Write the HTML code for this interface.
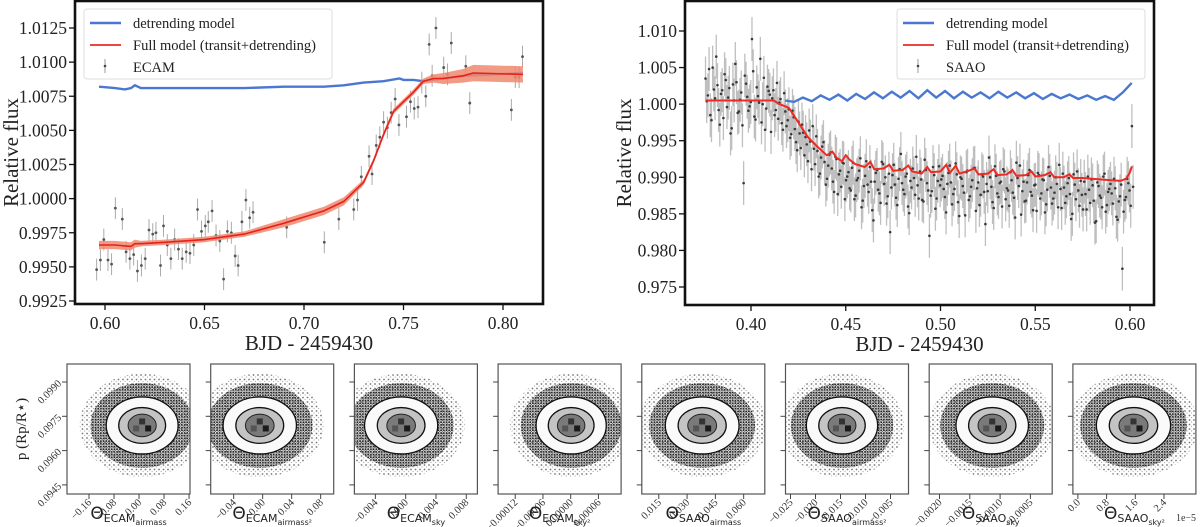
<!DOCTYPE html>
<html><head><meta charset="utf-8"><style>
html,body{margin:0;padding:0;background:#fff;}
svg{display:block;font-family:"Liberation Serif",serif;}
</style></head><body>
<svg id="fig" width="1200" height="527" viewBox="0 0 1200 527" xmlns="http://www.w3.org/2000/svg">
<defs>
<pattern id="dotsDark" width="2.7" height="2.7" patternUnits="userSpaceOnUse"><circle cx="1" cy="1" r="1.0" fill="#262626"/><circle cx="2.3" cy="2.2" r="0.55" fill="#555"/></pattern>
<pattern id="dotsLight" width="4.5" height="4.5" patternUnits="userSpaceOnUse"><circle cx="1.5" cy="1.5" r="0.9" fill="#777"/><circle cx="3.6" cy="3.5" r="0.6" fill="#aaa"/></pattern>
<filter id="soft"><feGaussianBlur stdDeviation="0.4"/></filter>
</defs>
<g id="ecam"></g>
<g id="saao"></g>
<g id="corner"></g>
</svg>
<script>
// ---------- ECAM data ----------
const ecamTimes=[0.5958,0.5977,0.5994,0.6015,0.6033,0.6052,0.6087,0.6106,0.6125,0.6144,0.6163,0.6183,0.6202,0.6221,0.6240,0.6256,0.6279,0.6294,0.6313,0.6331,0.6350,0.6369,0.6388,0.6408,0.6427,0.6446,0.6465,0.6485,0.6504,0.6519,0.6538,0.6558,0.6577,0.6596,0.6615,0.6635,0.6654,0.6669,0.6688,0.6708,0.6727,0.6744,0.6913,0.7102,0.7175,0.7250,0.7269,0.7288,0.7327,0.7342,0.7363,0.7381,0.7400,0.7419,0.7438,0.7458,0.7477,0.7515,0.7535,0.7554,0.7573,0.7592,0.7612,0.7629,0.7644,0.7663,0.7702,0.7721,0.7740,0.7813,0.7833,0.8042,0.8062,0.8081,0.8098];
const ecamFlux=[0.9948,0.9955,0.9970,0.9955,0.9952,0.9993,0.9985,0.9961,0.9956,0.9959,0.9947,0.9951,0.9956,0.9977,0.9974,0.9975,0.9951,0.9980,0.9966,0.9956,0.9970,0.9963,0.9956,0.9961,0.9960,0.9966,0.9992,0.9976,0.9980,0.9983,0.9991,0.9973,0.9969,0.9941,0.9976,0.9975,0.9958,0.9951,0.9983,0.9999,0.9986,0.9990,0.9979,0.9968,0.9985,0.9992,0.9999,1.0016,1.0031,1.0018,1.0039,1.0045,1.0056,1.0052,1.0063,1.0073,1.0054,1.0060,1.0071,1.0066,1.0067,1.0085,1.0075,1.0113,1.0090,1.0125,1.0096,1.0091,1.0114,1.0097,1.0070,1.0065,1.0089,1.0089,1.0104];
const ecamErr=0.0008;
const ecamDetT=[0.597,0.605,0.61,0.613,0.615,0.618,0.63,0.65,0.67,0.69,0.71,0.72,0.73,0.74,0.748,0.75,0.755,0.76,0.78,0.81];
const ecamDetF=[1.0082,1.0081,1.0080,1.0081,1.0083,1.0081,1.0081,1.0081,1.0081,1.0082,1.0082,1.0083,1.0085,1.0086,1.0088,1.0087,1.0087,1.0086,1.0090,1.0092];
const ecamModT=[0.597,0.605,0.613,0.615,0.618,0.63,0.65,0.67,0.69,0.71,0.72,0.73,0.735,0.74,0.745,0.75,0.755,0.76,0.765,0.77,0.78,0.785,0.81];
const ecamModF=[0.9966,0.9966,0.9965,0.9967,0.9967,0.9968,0.9970,0.9974,0.9982,0.9991,0.9998,1.0012,1.0028,1.0047,1.0064,1.0071,1.0078,1.0086,1.0088,1.0088,1.0090,1.0092,1.0091];
const ecamModErr=[0.0003,0.0003,0.0003,0.0003,0.0002,0.0002,0.0002,0.0002,0.0003,0.0003,0.0003,0.0002,0.0002,0.0002,0.0002,0.0002,0.0002,0.0002,0.0003,0.0004,0.0005,0.0006,0.0006];
const ecamYTicks=[0.9925,0.9950,0.9975,1.0000,1.0025,1.0050,1.0075,1.0100,1.0125];
const ecamXTicks=[0.60,0.65,0.70,0.75,0.80];
// ---------- SAAO data ----------
const saaoStart=0.376, saaoCadence=0.001257;
const saaoFluxPpt=[3.5,1.2,-1.5,5.0,0.8,2.6,-2.8,1.9,4.1,-0.4,2.2,-3.3,0.5,3.0,-1.0,1.6,-10.8,2.8,-0.9,0.3,4.5,-2.1,1.1,6.2,0.0,-3.5,2.4,1.3,
0.8,-1.5,2.9,0.2,-2.6,1.5,-3.0,-0.7,-4.1,-1.8,-5.2,-2.4,-6.0,-3.9,-4.5,-7.8,-5.1,-3.0,-8.2,-6.4,-9.5,-5.8,-7.9,-10.2,-6.9,-8.8,-12.0,-7.5,-9.6,-11.3,-8.1,-10.4,
-9.3,-11.8,-8.0,-12.5,-10.1,-7.4,-13.2,-9.8,-11.0,-8.6,-14.5,-10.6,-9.0,-12.2,-7.9,-10.9,-13.6,-9.5,-11.4,-8.3,
-12.8,-10.2,-6.8,-11.7,-9.9,-14.0,-10.5,-8.8,-12.4,-11.1,-9.2,-13.1,-7.6,-10.8,-18.0,-11.9,-9.7,-12.9,-8.5,-10.3,
-11.6,-14.8,-9.4,-10.7,-12.3,-8.1,-13.4,-10.0,-11.2,-15.2,-9.1,-12.6,-10.4,-8.7,-11.5,-13.8,-9.6,-12.0,-10.9,-7.3,
-11.3,-14.2,-9.8,-12.7,-10.6,-8.9,-13.0,-11.8,-9.3,-12.1,-15.5,-10.1,-8.4,-11.9,-13.3,-10.7,-9.0,-12.5,-11.1,-14.6,
-9.7,-12.2,-10.4,-13.7,-8.6,-11.4,-12.9,-10.0,-14.1,-11.6,-9.5,-13.5,-10.8,-12.3,-15.0,-11.0,-9.2,-13.9,-12.4,-10.6,
-14.4,-11.7,-10.3,-13.2,-16.0,-11.2,-12.8,-9.9,-14.7,-12.0,-10.9,-13.6,-11.5,-15.8,-12.6,-22.5,-13.1,-10.2,-11.8,-3.0];
const saaoFluxPpt2=[0.4,4.8,-2.2,2.0,6.5,-0.8,1.4,-1.9,3.3,0.9,-4.0,2.7,5.5,-1.2,0.6,-2.9,3.9,1.0,-0.3,8.9,-1.7,2.3,0.2,-2.5,3.6,-0.6,1.8,-3.8,
1.9,-0.8,-2.0,0.7,-3.5,-1.0,-2.2,-4.6,-0.9,-3.4,-6.3,-4.0,-2.8,-7.0,-5.5,-3.6,-8.9,-6.1,-4.4,-9.9,-7.3,-5.2,-11.0,-8.4,-6.6,-10.6,-7.2,-12.3,-9.1,-8.0,-13.0,-9.9,
-11.5,-8.7,-13.0,-10.4,-9.1,-14.1,-11.2,-7.8,-12.0,-10.6,-15.9,-9.4,-11.7,-13.5,-8.2,-10.0,-12.6,-17.5,-9.7,-11.0,
-13.8,-8.9,-10.8,-12.3,-9.5,-14.9,-11.4,-10.1,-7.2,-12.9,-10.3,-13.3,-9.0,-11.8,-12.5,-8.6,-14.3,-10.5,-11.1,-9.8,
-12.7,-10.9,-8.4,-13.7,-11.6,-9.6,-15.3,-10.2,-12.1,-9.3,-13.1,-11.3,-8.8,-14.6,-10.7,-12.4,-9.9,-16.4,-11.9,-10.0,
-13.4,-8.5,-12.2,-10.8,-14.0,-9.2,-11.5,-13.9,-10.4,-12.8,-8.0,-11.2,-15.1,-10.6,-13.2,-9.7,-12.0,-14.5,-11.0,-9.4,
-12.9,-10.3,-14.8,-11.7,-9.8,-13.6,-12.1,-10.9,-8.3,-14.2,-11.4,-12.6,-10.1,-15.7,-9.6,-13.0,-11.8,-10.5,-14.4,-12.3,
-9.9,-13.5,-11.1,-16.2,-10.7,-12.5,-14.1,-9.5,-13.8,-11.6,-12.2,-10.2,-15.4,-13.3,-11.0,-14.7,-12.7,-10.8,-13.9,-11.3];
const saaoErr=0.003;
const saaoModT=[0.376,0.412,0.415,0.42,0.425,0.43,0.435,0.44,0.443,0.445,0.448,0.45,0.452,0.455,0.46,0.463,0.465,0.47,0.473,0.475,0.48,0.483,0.485,0.49,0.493,0.495,0.50,0.503,0.505,0.508,0.51,0.515,0.518,0.52,0.525,0.528,0.53,0.535,0.538,0.54,0.545,0.548,0.55,0.555,0.558,0.56,0.565,0.568,0.57,0.575,0.58,0.585,0.59,0.595,0.598,0.60,0.601];
const saaoModPpt=[0.5,0.5,0.0,-0.5,-2.5,-4.5,-5.8,-7.0,-6.5,-7.3,-7.8,-7.0,-7.6,-8.2,-8.6,-7.9,-8.9,-8.8,-8.3,-9.1,-9.0,-8.4,-9.2,-9.5,-8.6,-9.3,-9.2,-8.3,-9.4,-8.4,-9.5,-9.1,-8.8,-9.6,-9.5,-8.9,-9.7,-9.6,-9.0,-9.8,-9.7,-9.2,-9.9,-9.7,-9.3,-10.0,-10.0,-9.6,-10.1,-10.1,-10.2,-10.3,-10.4,-10.5,-10.2,-9.3,-8.5];
const saaoDetStart=0.418, saaoDetStep=0.00469;
const saaoDetPpt=[0.5,0.3,0.9,0.4,1.2,0.6,1.3,0.5,1.4,0.7,1.6,0.8,1.7,0.9,1.8,0.8,1.9,0.9,1.8,0.8,1.7,0.9,1.6,0.8,1.7,0.9,1.6,0.8,1.5,0.7,1.4,0.8,1.3,0.7,1.2,0.6,1.1,0.6,1.6,2.9];
const saaoYTicks=[0.975,0.980,0.985,0.990,0.995,1.000,1.005,1.010];
const saaoXTicks=[0.40,0.45,0.50,0.55,0.60];
// ---------- corner data ----------
const cornerNames=["ECAM","ECAM","ECAM","ECAM","SAAO","SAAO","SAAO","SAAO"];
const cornerSubs=["airmass","airmass²","sky","sky²","airmass","airmass²","sky","sky²"];
const cornerXMin=[-0.2304,-0.0717,-0.00677,-0.000157,0.006,-0.026,-0.00217,-0.139];
const cornerXMax=[0.163,0.098,0.00947,0.000109,0.0712,-0.0014,-0.00014,3.29];
const cornerMean=[0.01,-0.004,-0.0006,0.000001,0.038,-0.0147,-0.00113,1.55];
const cornerSd=[0.05,0.022,0.0021,0.000033,0.0085,0.0031,0.00026,0.45];
const cornerTicks=[[-0.16,-0.08,0.00,0.08,0.16],[-0.04,0.00,0.04,0.08],[-0.004,0.000,0.004,0.008],[-0.00012,-0.00006,0.00000,0.00006],[0.015,0.030,0.045,0.060],[-0.025,-0.020,-0.015,-0.010,-0.005],[-0.0020,-0.0015,-0.0010,-0.0005],[0.0,0.8,1.6,2.4]];
const cornerTickLabels=[["−0.16","−0.08","0.00","0.08","0.16"],["−0.04","0.00","0.04","0.08"],["−0.004","0.000","0.004","0.008"],["−0.00012","−0.00006","0.00000","0.00006"],["0.015","0.030","0.045","0.060"],["−0.025","−0.020","−0.015","−0.010","−0.005"],["−0.0020","−0.0015","−0.0010","−0.0005"],["0.0","0.8","1.6","2.4"]];
const pYTicks=[0.0945,0.0960,0.0975,0.0990];
const pMean=0.0971, pSd=0.00058;

const NS="http://www.w3.org/2000/svg";
function mk(tag,attrs,parent){const e=document.createElementNS(NS,tag);for(const k in attrs)e.setAttribute(k,attrs[k]);parent.appendChild(e);return e;}
function txt(s,attrs,parent){const e=mk('text',attrs,parent);e.textContent=s;return e;}
function pathFrom(xs,ys,X,Y){return xs.map((x,i)=>(i?'L':'M')+X(x).toFixed(1)+','+Y(ys[i]).toFixed(1)).join('');}

function lightPanel(g,o){
  const {X,Y,x0,x1,y0,y1}=o;
  const cid='clip'+o.key;
  const cp=mk('clipPath',{id:cid},g);mk('rect',{x:x0,y:y0,width:x1-x0,height:y1-y0},cp);
  const plot=mk('g',{'clip-path':'url(#'+cid+')'},g);
  
  
  o.draw(plot);
  const fr=mk('rect',{x:x0,y:y0,width:x1-x0,height:y1-y0,fill:'none',stroke:'#111','stroke-width':2.6},g);
  
  
  o.yt.forEach(v=>{
    const t=mk('line',{x1:x0-6,x2:x0,y1:Y(v),y2:Y(v),stroke:'#111','stroke-width':1.3},g);
    
    
    const l=txt(v.toFixed(o.yd),{x:x0-8,y:Y(v)+6,'text-anchor':'end','font-size':17.5,fill:'#222'},g);
    
    
  });
  o.xt.forEach(v=>{
    const t=mk('line',{x1:X(v),x2:X(v),y1:y1,y2:y1+6,stroke:'#111','stroke-width':1.3},g);
    
    
    const l=txt(v.toFixed(2),{x:X(v),y:y1+25,'text-anchor':'middle','font-size':17.5,fill:'#222'},g);
    
    
  });
  const xt=txt('BJD - 2459430',{x:(x0+x1)/2,y:y1+46,'text-anchor':'middle','font-size':21,fill:'#222'},g);
  
  
  const yt=txt('Relative flux',{x:0,y:0,transform:'translate('+o.ylx+','+((y0+y1)/2)+') rotate(-90)','text-anchor':'middle','font-size':21,fill:'#222'},g);
  
  
  const lg=mk('g',{},g);
  
  
  const lx=o.legX;
  mk('rect',{x:lx,y:9,width:o.legW,height:70,rx:3,fill:'#fff','fill-opacity':0.85,stroke:'#ddd','stroke-width':1},lg);
  const e1=mk('line',{x1:lx+6,x2:lx+37,y1:23,y2:23,stroke:'#4a78d0','stroke-width':2.4},lg);
  
  
  const t1=txt('detrending model',{x:lx+49,y:28,'font-size':14.5,fill:'#222'},lg);
  
  
  const e2=mk('line',{x1:lx+6,x2:lx+37,y1:45,y2:45,stroke:'#ee2a24','stroke-width':1.8},lg);
  
  
  const t2=txt('Full model (transit+detrending)',{x:lx+49,y:50,'font-size':14.5,fill:'#222'},lg);
  
  
  const e3=mk('line',{x1:lx+21,x2:lx+21,y1:59,y2:73,stroke:'#999','stroke-width':1},lg);
  
  
  mk('circle',{cx:lx+21,cy:66,r:1.3,fill:'#444'},lg);
  const t3=txt(o.inst,{x:lx+49,y:72,'font-size':14.5,fill:'#222'},lg);
  
  
}

// ECAM
(function(){
  const g=document.getElementById('ecam');
  const X=v=>105+(v-0.60)/0.05*99.5;
  const Y=v=>28+(1.0125-v)/0.0025*34.125;
  lightPanel(g,{key:'ecam',X,Y,x0:75,x1:543,y0:1,y1:304,yt:ecamYTicks,yd:4,xt:ecamXTicks,ylx:18,legX:84,legW:248,inst:'ECAM',
  draw(p){
    ecamTimes.forEach((t,i)=>{
      const eb=mk('line',{x1:X(t),x2:X(t),y1:Y(ecamFlux[i]+ecamErr),y2:Y(ecamFlux[i]-ecamErr),stroke:'#aaa','stroke-width':1},p);
      
      
      const c=mk('circle',{cx:X(t),cy:Y(ecamFlux[i]),r:1.4,fill:'#555'},p);
      
      
    });
    const d=mk('path',{d:pathFrom(ecamDetT,ecamDetF,X,Y),fill:'none',stroke:'#4a78d0','stroke-width':2.4},p);
    
    
    const up=ecamModF.map((f,i)=>f+ecamModErr[i]), lo=ecamModF.map((f,i)=>f-ecamModErr[i]);
    const bd=pathFrom(ecamModT,up,X,Y)+ecamModT.slice().reverse().map((t,j)=>'L'+X(t).toFixed(1)+','+Y(lo[lo.length-1-j]).toFixed(1)).join('')+'Z';
    const b=mk('path',{d:bd,fill:'#f08a6e','fill-opacity':0.85,stroke:'none'},p);
    
    
    const m=mk('path',{d:pathFrom(ecamModT,ecamModF,X,Y),fill:'none',stroke:'#e8201c','stroke-width':1.6},p);
    
    
  }});
})();

// SAAO
(function(){
  const g=document.getElementById('saao');
  const X=v=>751+(v-0.40)/0.05*94.75;
  const Y=v=>31+(1.010-v)/0.005*36.57;
  lightPanel(g,{key:'saao',X,Y,x0:685,x1:1154,y0:1,y1:305,yt:saaoYTicks,yd:3,xt:saaoXTicks,ylx:631,legX:897,legW:248,inst:'SAAO',
  draw(p){
    const sets=[[saaoFluxPpt,0],[saaoFluxPpt2,0.5]];
    sets.forEach(([arr,off])=>arr.forEach((v,i)=>{
      const t=saaoStart+(i+off)*saaoCadence, f=1+v/1000;
      const eb=mk('line',{x1:X(t),x2:X(t),y1:Y(f+saaoErr),y2:Y(f-saaoErr),stroke:'#aaa','stroke-width':1.3,'stroke-opacity':0.75},p);
      
      
    }));
    sets.forEach(([arr,off])=>arr.forEach((v,i)=>{
      const t=saaoStart+(i+off)*saaoCadence, f=1+v/1000;
      const c=mk('circle',{cx:X(t),cy:Y(f),r:1.3,fill:'#3a3a3a'},p);
      
      
    }));
    const dt=saaoDetPpt.map((v,i)=>saaoDetStart+i*saaoDetStep), df=saaoDetPpt.map(v=>1+v/1000);
    const d=mk('path',{d:pathFrom(dt,df,X,Y),fill:'none',stroke:'#4a78d0','stroke-width':2.4},p);
    
    
    const mf=saaoModPpt.map(v=>1+v/1000);
    const m=mk('path',{d:pathFrom(saaoModT,mf,X,Y),fill:'none',stroke:'#ee2a24','stroke-width':2},p);
    
    
  }});
})();

// Corner panels
(function(){
  const g=document.getElementById('corner');
  const y0=364,y1=494,w=123;
  const PY=v=>382+(0.0990-v)/0.0015*34.3;
  cornerNames.forEach((nm,i)=>{
    const x0=67+143.7*i;
    const X=v=>x0+(v-cornerXMin[i])/(cornerXMax[i]-cornerXMin[i])*w;
    const pg=mk('g',{},g);
    
    
    const cid='cc'+i;
    const cp=mk('clipPath',{id:cid},pg);mk('rect',{x:x0,y:y0,width:w,height:y1-y0},cp);
    const a=mk('g',{'clip-path':'url(#'+cid+')'},pg);
    const cx=X(cornerMean[i]), cy=PY(pMean);
    const sx=X(cornerMean[i]+cornerSd[i])-cx, sy=PY(pMean)-PY(pMean+pSd);
    const outer=mk('ellipse',{cx,cy,rx:sx*4.0,ry:sy*3.9,fill:'url(#dotsLight)'},a);
    
    
    const mid=mk('ellipse',{cx,cy,rx:sx*3.3,ry:sy*3.2,fill:'url(#dotsDark)'},a);
    
    
    const c2=mk('ellipse',{cx,cy,rx:sx*2.3,ry:sy*2.15,fill:'#fafafa',stroke:'#111','stroke-width':1.3},a);
    
    
    const c1=mk('ellipse',{cx,cy,rx:sx*1.5,ry:sy*1.35,fill:'#c4c4c4',stroke:'#111','stroke-width':1.3},a);
    
    
    const c0=mk('ellipse',{cx,cy,rx:sx*0.9,ry:sy*0.85,fill:'#7a7a7a',stroke:'#222','stroke-width':1},a);
    
    
    mk('rect',{x:cx-3,y:cy-7,width:6,height:6,fill:'#333'},a);
    mk('rect',{x:cx+3,y:cy,width:6,height:6,fill:'#1a1a1a'},a);
    mk('rect',{x:cx-9,y:cy,width:6,height:6,fill:'#555'},a);
    const fr=mk('rect',{x:x0,y:y0,width:w,height:y1-y0,fill:'none',stroke:'#555','stroke-width':1.2},pg);
    
    
    pYTicks.forEach(v=>{
      const t=mk('line',{x1:x0-5,x2:x0,y1:PY(v),y2:PY(v),stroke:'#444','stroke-width':1},pg);
      
      
      if(i===0){
        const l=txt(v.toFixed(4),{x:0,y:0,transform:'translate('+(x0-5)+','+(PY(v)+2)+') rotate(-45)','text-anchor':'end','font-size':10.5,fill:'#333'},pg);
        
        
      }
    });
    cornerTicks[i].forEach((v,k)=>{
      const t=mk('line',{x1:X(v),x2:X(v),y1:y1,y2:y1+5,stroke:'#444','stroke-width':1},pg);
      
      
      const l=txt(cornerTickLabels[i][k],{x:0,y:0,transform:'translate('+(X(v)+3)+','+(y1+9)+') rotate(-45)','text-anchor':'end','font-size':10.5,fill:'#333'},pg);
      
      
    });
    const tl=mk('text',{x:x0+w/2,y:519,'text-anchor':'middle','font-family':'"DejaVu Sans",sans-serif','font-size':17,fill:'#222'},pg);
    
    
    const s1=mk('tspan',{},tl);s1.textContent='Θ';
    const s2=mk('tspan',{'font-size':11,dy:3},tl);s2.textContent=nm;
    const s3=mk('tspan',{'font-size':8,dy:3},tl);s3.textContent=cornerSubs[i];
  });
  const yl=mk('text',{x:0,y:0,transform:'translate(26,429) rotate(-90)','text-anchor':'middle','font-size':15,fill:'#222'},g);
  
  
  yl.textContent='p (Rp/R⋆)';
  const ex=txt('1e−5',{x:1186,y:521,'text-anchor':'middle','font-size':10,fill:'#333'},g);
  
  
})();
</script>
</body></html>
